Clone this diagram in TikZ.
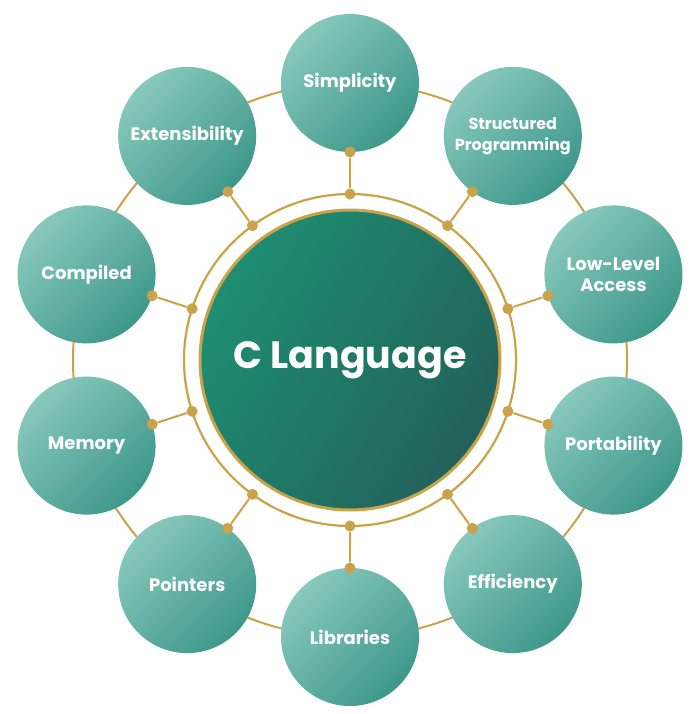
\documentclass[tikz,border=0pt]{standalone}
\usepackage{fontspec}
\setmainfont{Poppins}
\usetikzlibrary{calc}
\definecolor{gold}{HTML}{C9A24A}
\definecolor{tealA}{HTML}{88C8BD}
\definecolor{tealB}{HTML}{3D988A}
\definecolor{cA}{HTML}{1E8E72}
\definecolor{cB}{HTML}{22615A}
\tikzset{
 sat/.style={circle,minimum size=138pt,inner sep=0pt,left color=tealA,right color=tealB,shading angle=45,text=white,font=\fontsize{18}{21}\selectfont\bfseries,align=center},
 dotg/.style={circle,fill=gold,inner sep=0pt,minimum size=11pt},
 link/.style={gold,line width=2pt}
}
\begin{document}
\begin{tikzpicture}[x=1pt,y=-1pt]
\useasboundingbox (0,0) rectangle (699,714);
\coordinate (C) at (350,360);
\draw[link] (C) circle (277);
\draw[gold,line width=2.2pt] (C) circle (166);
\node[circle,minimum size=300pt,inner sep=0pt,draw=gold,line width=3pt,left color=cA,right color=cB,shading angle=60,text=white,font=\fontsize{38}{42}\selectfont\bfseries] (core) at (C) {C Language};
\foreach \i/\t in {0/Simplicity,1/{\fontsize{16}{20}\selectfont Structured\\\fontsize{16}{20}\selectfont Programming},2/{Low-Level\\Access},3/Portability,4/Efficiency,5/Libraries,6/Pointers,7/Memory,8/Compiled,9/Extensibility}{
  \pgfmathsetmacro{\a}{90-36*\i}
  \node[sat] (s\i) at ($(C)+(\a:277 and -277)$) {\t};
  \node[dotg] (o\i) at ($(C)+(\a:208 and -208)$) {};
  \node[dotg] (n\i) at ($(C)+(\a:166 and -166)$) {};
  \draw[link] (o\i) -- (n\i);
}
\end{tikzpicture}
\end{document}
